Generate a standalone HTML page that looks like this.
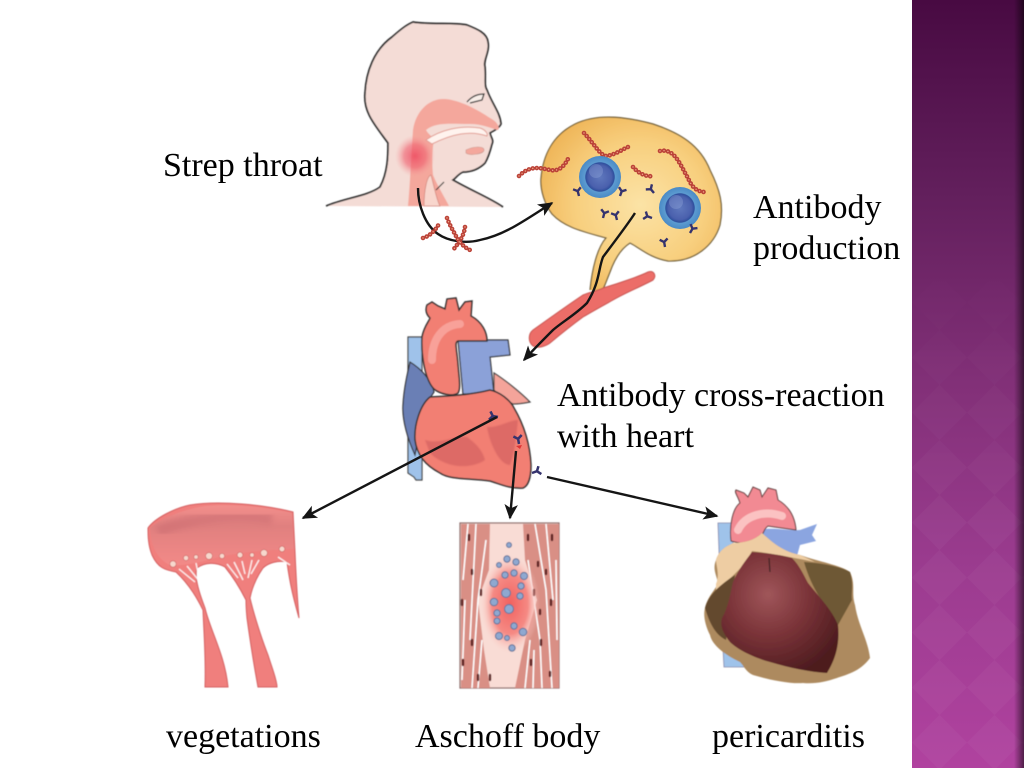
<!DOCTYPE html>
<html><head><meta charset="utf-8"><style>
html,body{margin:0;padding:0;background:#fff;width:1024px;height:768px;overflow:hidden}
text{font-family:"Liberation Serif",serif;font-size:34px;fill:#000}
</style></head><body>
<svg width="1024" height="768" viewBox="0 0 1024 768" xmlns="http://www.w3.org/2000/svg" style="display:block">
<defs>
<linearGradient id="pan" x1="0" y1="0" x2="0" y2="1"><stop offset="0" stop-color="#480a42"/><stop offset=".25" stop-color="#621f5c"/><stop offset=".5" stop-color="#823078"/><stop offset=".75" stop-color="#9c3c90"/><stop offset="1" stop-color="#b0429f"/></linearGradient>
<linearGradient id="edge" x1="0" y1="0" x2="1" y2="0"><stop offset="0" stop-color="#000" stop-opacity="0"/><stop offset="1" stop-color="#000" stop-opacity=".55"/></linearGradient>
<linearGradient id="fade" x1="0" y1="0" x2="0" y2="1"><stop offset=".3" stop-color="#fff" stop-opacity="0"/><stop offset=".7" stop-color="#fff" stop-opacity="1"/></linearGradient>
<mask id="fm"><rect x="912" y="0" width="112" height="768" fill="url(#fade)"/></mask>
<pattern id="dia" width="55" height="55" patternUnits="userSpaceOnUse" x="912" y="0"><path d="M27.5 0L55 27.5L27.5 55L0 27.5Z" fill="#fff" fill-opacity=".035"/></pattern>
<radialGradient id="node" cx=".55" cy=".5" r=".6"><stop offset="0" stop-color="#fbe3a6"/><stop offset=".6" stop-color="#f8cf7e"/><stop offset="1" stop-color="#efb558"/></radialGradient>
<radialGradient id="sore"><stop offset="0" stop-color="#ee4a60" stop-opacity=".85"/><stop offset=".55" stop-color="#f0606f" stop-opacity=".6"/><stop offset="1" stop-color="#f5a0a0" stop-opacity="0"/></radialGradient>
<radialGradient id="cell"><stop offset="0" stop-color="#5f78bd"/><stop offset=".55" stop-color="#4a60ad"/><stop offset=".68" stop-color="#2f4f9d"/><stop offset=".72" stop-color="#5c9bd0"/><stop offset="1" stop-color="#4a8ac6"/></radialGradient>
<radialGradient id="dark" cx=".4" cy=".35" r=".7"><stop offset="0" stop-color="#a0565a"/><stop offset=".5" stop-color="#7a3338"/><stop offset="1" stop-color="#4d1c1f"/></radialGradient>
<linearGradient id="val" x1="0" y1="0" x2="0" y2="1"><stop offset="0" stop-color="#f28f8c"/><stop offset=".35" stop-color="#e0807f"/><stop offset="1" stop-color="#f38a88"/></linearGradient>
<radialGradient id="asc"><stop offset="0" stop-color="#f2615f"/><stop offset=".6" stop-color="#f58a84"/><stop offset="1" stop-color="#fbd7d0" stop-opacity="0"/></radialGradient>
<filter id="b1"><feGaussianBlur stdDeviation=".6"/></filter>
<filter id="b3"><feGaussianBlur stdDeviation="3"/></filter>
<marker id="ah2" viewBox="0 0 10 10" refX="9" refY="5" markerWidth="15" markerHeight="15" orient="auto" markerUnits="userSpaceOnUse"><path d="M0 0.5L10 5L0 9.5L2.5 5Z" fill="#151515"/></marker>
<g id="y"><path d="M0 0V-5M0 -5L-4 -8M0 -5L4 -8" stroke="#35336e" stroke-width="2.4" fill="none"/></g>
</defs>

<!-- side panel -->
<rect x="912" y="0" width="112" height="768" fill="url(#pan)"/>
<rect x="912" y="0" width="112" height="768" fill="url(#dia)" mask="url(#fm)"/>
<rect x="1014" y="0" width="10" height="768" fill="url(#edge)"/>

<!-- head -->
<g filter="url(#b1)">
<path d="M326 206C345 198 368 196 380 187C388 172 388 155 388 143C375 125 363 112 365 93C366 72 374 50 392 37C400 30 406 25 413 22C430 25 455 22 467 25C477 29 487 33 488 42C490 52 483 60 485 67C486 78 484 86 487 90C492 104 500 112 501 124C498 130 492 131 490 133C491 138 494 140 492 144C490 152 488 158 485 163C478 170 470 172 463 172C458 174 456 178 453 180C470 190 490 198 503 207" fill="#f4dcd6" stroke="#2a2a2a" stroke-width="1.7"/>
<path d="M408 206C410 185 411 160 413 130C416 110 430 98 445 99C460 100 478 110 490 118C498 122 500 128 498 130C490 128 482 124 470 124C450 124 436 122 426 130C428 134 432 136 434 140C432 150 432 165 433 175C437 185 445 198 449 206Z" fill="#f4a79c"/>
<path d="M426 140C440 130 460 125 480 128C486 130 488 134 487 136C470 130 452 134 432 144Z" fill="#fff3ee" stroke="#e29e94"/>
<path d="M466 150C474 146 484 146 484 150C484 154 470 156 466 153Z" fill="#f4a79c" stroke="#c9968c" stroke-width=".6"/>
<path d="M424 206C424 190 427 176 431 175C434 185 436 198 440 206Z" fill="#f8d6cd" stroke="#d58b80" stroke-width=".8"/>
<ellipse cx="415" cy="156" rx="20" ry="21" fill="url(#sore)"/>
<path d="M467 102C472 96 478 94 484 94L482 100L470 103" fill="#f8eee8" stroke="#2a2a2a" stroke-width="1.3"/>
<path d="M444 182L436 190" stroke="#333" stroke-width="1.2"/>
</g>

<!-- lymph node -->
<g filter="url(#b1)">
<path d="M590 290C592 270 597 248 606 238C585 232 565 228 552 214C545 205 540 190 541 178C543 155 553 135 575 124C600 112 630 118 653 124C680 133 700 145 710 170C720 190 724 205 720 225C714 245 695 262 668 261C650 258 640 248 630 243C622 248 615 258 610 272C606 282 604 288 603 292Z" fill="url(#node)"/>
<path d="M590 290C592 270 597 248 606 238C585 232 565 228 552 214C545 205 540 190 541 178C543 155 553 135 575 124C600 112 630 118 653 124C680 133 700 145 710 170C720 190 724 205 720 225C714 245 695 262 668 261C650 258 640 248 630 243C622 248 615 258 610 272C606 282 604 288 603 288" fill="none" stroke="#6c5a35" stroke-width="1.2"/>
<path d="M648 272C640 276 620 283 603 288C597 291 590 292 583 295C565 307 550 318 533 330C528 334 528 342 533 346C538 349 546 346 550 343C562 333 572 325 583 317C593 311 604 305 613 300C625 293 640 287 653 280C657 276 654 270 648 272Z" fill="#ec6d68" stroke="#c85652" stroke-width="1"/>
</g>
<g fill="none" stroke-linecap="round">
<g stroke="#bb4238" stroke-width="4.6" stroke-dasharray="0 4">
<path d="M519 176C530 165 540 168 550 170C560 172 565 165 569 157"/>
<path d="M584 133C595 145 600 155 606 156C615 155 625 148 628 147"/>
<path d="M633 167C640 175 648 177 654 176"/>
<path d="M660 151C675 148 680 165 688 178C692 188 698 192 705 192"/>
</g>
<g stroke="#f0ad8c" stroke-width="1.4" stroke-dasharray="0 4">
<path d="M519 176C530 165 540 168 550 170C560 172 565 165 569 157"/>
<path d="M584 133C595 145 600 155 606 156C615 155 625 148 628 147"/>
<path d="M633 167C640 175 648 177 654 176"/>
<path d="M660 151C675 148 680 165 688 178C692 188 698 192 705 192"/>
</g>
</g>
<circle cx="600" cy="177" r="21" fill="url(#cell)"/>
<circle cx="680" cy="208" r="21" fill="url(#cell)"/>
<circle cx="596" cy="171" r="7" fill="#9fb3e0" opacity=".3"/>
<circle cx="676" cy="202" r="7" fill="#9fb3e0" opacity=".3"/>
<use href="#y" transform="translate(579 196) rotate(-15)"/>
<use href="#y" transform="translate(620 196) rotate(20)"/>
<use href="#y" transform="translate(603 218) rotate(15)"/>
<use href="#y" transform="translate(617 220) rotate(-15)"/>
<use href="#y" transform="translate(654 193) rotate(-40)"/>
<use href="#y" transform="translate(652 218) rotate(-70)"/>
<use href="#y" transform="translate(690 233) rotate(30)"/>
<use href="#y" transform="translate(665 247) rotate(-10)"/>

<!-- heart -->
<g filter="url(#b1)">
<path d="M408 337H422V480H416L414 477L408 473Z" fill="#9fc2ea" stroke="#444" stroke-width="1.2"/>
<path d="M410 362C420 368 432 380 434 392L422 410C420 425 416 450 415 455C408 440 402 420 403 405C404 385 408 372 410 362Z" fill="#6b7fb5" stroke="#333" stroke-width="1.2"/>
<path d="M458 340H508L510 355L490 357L494 394L463 394Z" fill="#8ba1d8" stroke="#333" stroke-width="1.2"/>
<path d="M494 373C505 380 520 392 530 402C525 403 518 404 513 404C505 400 498 395 494 390Z" fill="#f4a49a" stroke="#444" stroke-width="1.2"/>
<path d="M430 397C450 396 470 395 490 390C500 392 510 400 514 408C524 425 530 445 531 465C531 478 528 486 523 488C510 489 500 484 490 481C470 478 450 480 440 473C425 465 417 455 415 440C414 425 420 405 430 397Z" fill="#f27f73" stroke="#333" stroke-width="1.5"/>
<path d="M425 440C440 445 455 435 467 437C478 445 483 452 485 460C470 470 445 468 430 453Z" fill="#dd6a66" filter="url(#b1)"/>
<path d="M487 427C498 428 510 420 518 420C516 440 514 455 510 465C500 465 490 445 487 427Z" fill="#dd6a66" filter="url(#b1)"/>
<path d="M427 305L432 302L438 306L445 309L447 299L456 298L459 310L465 302L472 301L471 316C482 322 487 332 487 341H458C454 342 457 350 458 365C459 378 461 388 458 393C453 397 440 394 434 389C425 380 421 355 422 337C424 326 430 320 430 318C426 314 425 310 427 305Z" fill="#f27f73" stroke="#333" stroke-width="1.5"/>
<path d="M432 360C432 340 442 325 460 324" fill="none" stroke="#f9aaa3" stroke-width="8" stroke-linecap="round" opacity=".8"/>
</g>
<use href="#y" transform="translate(498 417) rotate(-80) scale(1.05)"/>
<use href="#y" transform="translate(519 444) rotate(-10) scale(1.05)"/>
<path d="M516 446L522 445L520 449Z" fill="#dd3333"/>
<use href="#y" transform="translate(532 473) rotate(70) scale(1.05)"/>

<!-- valve -->
<g filter="url(#b1)">
<path d="M295 552C296 575 297 595 299 618C294 600 290 585 287 562C278 560 268 563 263 568C256 578 252 588 250 598C254 615 262 640 268 655C272 668 277 680 277 687H258C253 660 250 640 247 618C246 608 246 604 246 600C240 588 234 578 225 567C216 562 205 562 197 568C194 578 200 595 205 608C210 630 225 655 228 687H205C206 660 204 635 203 610C198 600 190 585 176 572C165 570 158 568 152 555C148 545 148 535 148 528C155 518 175 508 190 505C220 500 265 505 293 512Z" fill="#f07f7d" stroke="#d45f60" stroke-width="1"/>
<path d="M150 528C158 520 180 510 205 506C235 503 270 508 292 513L294 549C265 550 240 552 215 558C195 564 180 566 170 565C158 560 150 545 150 528Z" fill="url(#val)"/>
<path d="M158 532C180 520 230 512 272 519" stroke="#c86a70" stroke-width="12" fill="none" opacity=".5" filter="url(#b3)"/>
<g fill="none" stroke="#fff" stroke-width="1.4" opacity=".85">
<path d="M179 569L195 582M187 566L200 582M196 563L199 578M227 564L238 578M234 562L243 580M242 561L245 574M252 560L248 578M259 560L251 574M278 557L290 565"/>
</g>
<g fill="#f7d8cd" stroke="#c95f5f" stroke-width=".6">
<circle cx="173" cy="564" r="3.2"/><circle cx="186" cy="558" r="2.6"/><circle cx="209" cy="556" r="3.4"/><circle cx="222" cy="556" r="2.6"/><circle cx="240" cy="555" r="2.8"/><circle cx="264" cy="553" r="3.4"/><circle cx="282" cy="549" r="2.8"/><circle cx="196" cy="557" r="2.2"/><circle cx="252" cy="555" r="2.2"/>
</g>
</g>

<!-- Aschoff -->
<g filter="url(#b1)">
<rect x="460" y="523" width="99" height="165" fill="#f9dcd5" stroke="#8c6a68" stroke-width="1.2"/>
<g fill="#d98f85">
<path d="M461 524H490L489 570L478 600L484 650L490 688H461Z"/>
<path d="M523 524H559V688H515L525 640L537 600L525 560Z"/>
</g>
<g stroke="#fff" stroke-width="1.5" fill="none">
<path d="M468 524L463 580M476 524L470 640M486 540L478 600L472 688M465 600L462 680M482 640L478 688"/>
<path d="M535 524L546 590L552 688M546 524L553 600M528 560L540 640L542 688M556 560L557 640M530 640L525 688M534 650L533 688"/>
</g>
<g stroke="#5a1c1c" stroke-width="2.4" stroke-linecap="round">
<path d="M469 535V540M462 600V605M472 570V574M472 640V645M463 660V665M481 590V595M478 675V680M490 675V680"/>
<path d="M528 535V540M552 535V540M534 590V595M546 570V574M551 600V605M531 660V665M541 640V645M550 672V676M538 562V566M540 610V614"/>
</g>
<ellipse cx="510" cy="604" rx="30" ry="50" fill="url(#asc)"/>
<g fill="#8fa8d0" stroke="#5f7198" stroke-width="1">
<circle cx="509" cy="545" r="2.5"/><circle cx="507" cy="559" r="3.2"/><circle cx="516" cy="562" r="3.2"/><circle cx="499" cy="565" r="2.5"/><circle cx="505" cy="575" r="3.2"/><circle cx="514" cy="573" r="3.2"/><circle cx="524" cy="576" r="3.6"/><circle cx="494" cy="583" r="4"/><circle cx="521" cy="586" r="3.2"/><circle cx="506" cy="593" r="4.5"/><circle cx="494" cy="602" r="3.8"/><circle cx="520" cy="596" r="3.2"/><circle cx="509" cy="609" r="4.5"/><circle cx="497" cy="613" r="3.2"/><circle cx="497" cy="621" r="3"/><circle cx="514" cy="626" r="3.2"/><circle cx="523" cy="632" r="3.8"/><circle cx="499" cy="636" r="3.6"/><circle cx="507" cy="638" r="2.5"/><circle cx="512" cy="648" r="3.2"/>
</g>
</g>

<!-- pericarditis -->
<g filter="url(#b1)">
<path d="M718 523H733V640H745V667H724L722 630Z" fill="#9fc3ea" stroke="#88a" stroke-width=".8"/>
<path d="M765 529C780 528 790 531 800 530L817 524L812 535L816 541L800 545L797 556L760 540Z" fill="#8ba5e0"/>
<path d="M731 541C729 525 733 508 740 503C738 496 734 492 736 490L744 493L748 497L753 487L760 490L762 497L768 488L776 490L778 500C790 507 795 518 796 530L768 526C762 530 766 535 755 540C745 545 738 543 731 541Z" fill="#f28a93" stroke="#5a3a3a" stroke-width="1"/>
<path d="M738 530C745 515 765 510 782 516" stroke="#fbc2c2" stroke-width="8" fill="none" stroke-linecap="round"/>
<path d="M705 608C708 595 716 590 718 582C715 572 713 568 716 560C720 548 728 546 733 543C745 543 755 540 762 533C775 545 785 552 800 555C820 562 840 565 850 572C856 585 851 592 855 605C858 625 868 640 870 658C860 672 845 675 837 678C825 682 815 684 803 683C790 684 770 680 753 675C746 672 744 666 740 662C725 655 712 645 710 635C705 625 703 615 705 608Z" fill="#ad8a5e"/>
<path d="M716 584C720 575 716 565 716 560C720 548 728 546 733 543C745 543 755 540 762 533C775 545 785 552 800 555L815 562C795 558 770 553 752 551C745 565 735 575 716 590Z" fill="#eecda3"/>
<path d="M705 608C708 595 720 585 735 575L726 640C716 635 710 625 705 608Z" fill="#644a2e"/>
<path d="M804 562C820 563 840 566 850 572C854 585 851 592 852 600L838 625C825 605 812 590 804 562Z" fill="#6e5836"/>
<path d="M752 552C770 553 785 556 792 558C800 566 804 576 808 583C820 598 832 610 838 625C840 645 835 660 827 673C810 672 790 668 770 662C755 658 738 650 730 642C722 632 720 625 722 618C728 608 730 595 733 582C738 570 746 560 752 552Z" fill="url(#dark)"/>
<path d="M769 558L770 572" stroke="#3a2222" stroke-width="1.2"/>
</g>

<!-- arrows -->
<g fill="none" stroke="#151515" stroke-width="2.4">
<path d="M418 188C418 205 425 225 438 234C448 241 465 244 480 240C505 235 525 220 552 203" marker-end="url(#ah2)"/>
<path d="M635 213C628 224 612 245 603 257C598 270 600 282 587 303C575 315 562 322 553 330C543 340 533 350 524 360" marker-end="url(#ah2)"/>
<path d="M497 417L303 518" marker-end="url(#ah2)"/>
<path d="M516 451L510 518" marker-end="url(#ah2)"/>
<path d="M547 477L717 516" marker-end="url(#ah2)"/>
</g>
<g fill="none" stroke-linecap="round">
<g stroke="#bb4238" stroke-width="4.6" stroke-dasharray="0 4">
<path d="M423 238C430 236 436 230 440 222"/>
<path d="M447 218C450 226 454 232 457 238C460 243 465 248 470 250"/>
<path d="M465 227C464 236 458 244 453 250"/>
</g>
<g stroke="#f0ad8c" stroke-width="1.4" stroke-dasharray="0 4">
<path d="M423 238C430 236 436 230 440 222"/>
<path d="M447 218C450 226 454 232 457 238C460 243 465 248 470 250"/>
<path d="M465 227C464 236 458 244 453 250"/>
</g>
</g>

<!-- labels -->
<text x="163" y="176">Strep throat</text>
<text x="753" y="218">Antibody</text>
<text x="753" y="259">production</text>
<text x="557" y="406">Antibody cross-reaction</text>
<text x="557" y="447">with heart</text>
<text x="166" y="747">vegetations</text>
<text x="415" y="747">Aschoff body</text>
<text x="712" y="747">pericarditis</text>
</svg>
</body></html>
